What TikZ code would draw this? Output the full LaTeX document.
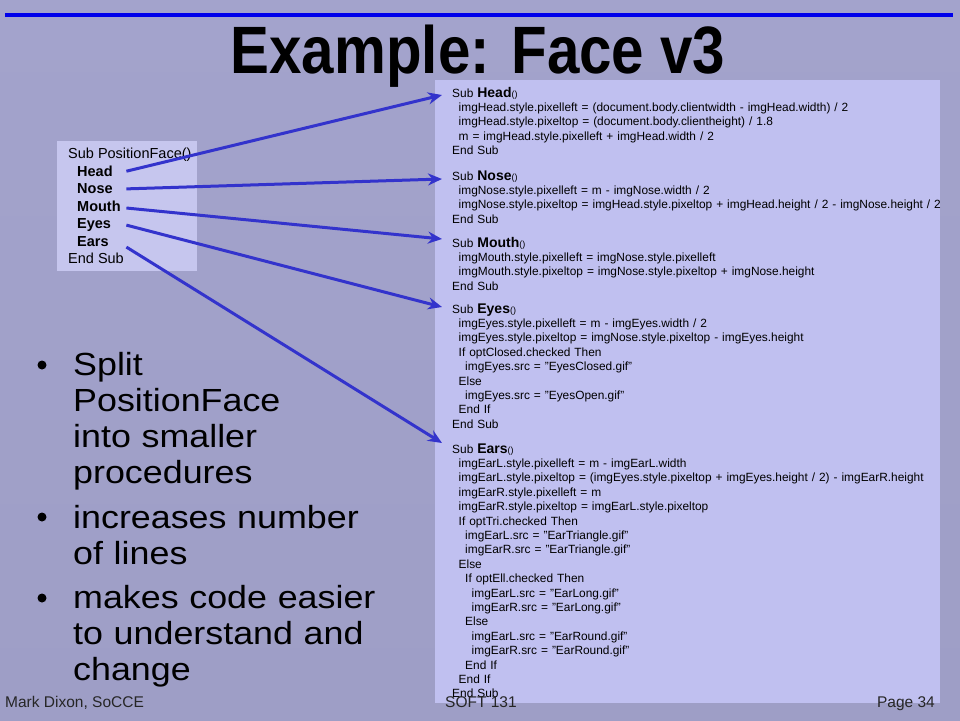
\documentclass[tikz,border=0pt]{standalone}
\usepackage{fontspec}
\setmainfont{Liberation Sans}
\newfontfamily\titlefont[FakeStretch=0.87]{Liberation Sans}
\newfontfamily\bulfont[FakeStretch=1.12]{Liberation Sans}
\usepackage{tikz}
\usetikzlibrary{arrows.meta,positioning,calc}
\usepackage{xcolor}
\definecolor{bgtop}{RGB}{163,163,204}
\definecolor{bgmid}{RGB}{200,200,245}
\definecolor{bgbot}{RGB}{158,158,198}
\definecolor{codebg}{RGB}{192,192,240}
\definecolor{callbg}{RGB}{198,198,238}
\definecolor{linkblue}{RGB}{51,51,204}
\definecolor{rule}{RGB}{0,0,235}
\newlength{\indstep}
\setlength{\indstep}{6.5pt}
\newcommand{\ind}[1]{\hspace*{#1\indstep}}
\newcommand{\subhd}[1]{Sub {\fontsize{14}{14}\selectfont\bfseries #1}{\fontsize{9}{9}\selectfont()}}

\begin{document}
\begin{tikzpicture}[x=1pt,y=-1pt,
    codeblk/.style={inner sep=0pt, text width=520pt, align=left, anchor=base west,
        font=\fontsize{11.9}{14.4}\selectfont},
    call/.style={inner sep=0pt, text width=49pt, align=left, anchor=base west,
        font=\fontsize{14.5}{17}\selectfont\bfseries},
    bultext/.style={inner sep=0pt, text width=360pt, align=left, anchor=base west,
        font=\bulfont\fontsize{32}{36}\selectfont},
    dot/.style={circle, fill=black, inner sep=0pt, minimum size=9pt},
    foot/.style={inner sep=0pt, font=\fontsize{15.5}{16}\selectfont, text=black!85},
    link/.style={line width=3pt, linkblue, -{Stealth[length=14pt,width=12pt]}}]
    \useasboundingbox (0,0) rectangle (960,720);

    % Background and title
    \shade[top color=bgtop, middle color=bgmid, bottom color=bgbot] (0,0) rectangle (960,720);
    \draw[line width=4pt, rule] (5,15) -- (953,15);
    \node[inner sep=0pt, anchor=base, font=\titlefont\bfseries\fontsize{67}{67}\selectfont]
        (title) at (478,73) {Example: Face v3};

    % Calling procedure
    \fill[callbg] (57,141) rectangle (197,271);
    \node[inner sep=0pt, anchor=base west, font=\fontsize{14.5}{17}\selectfont]
        (pfSub) at (68,158) {Sub PositionFace()};
    \foreach \n [count=\i] in {Head,Nose,Mouth,Eyes,Ears}
        \node[call] (c\n) at (77,{159+17.4*\i}) {\n};
    \node[inner sep=0pt, anchor=base west, font=\fontsize{14.5}{17}\selectfont]
        (pfEnd) at (68,263) {End Sub};

    % Split procedures
    \fill[codebg] (435,80) rectangle (940,703);
    \node[codeblk] (head) at (452,97) {\subhd{Head}\\
        \ind1imgHead.style.pixelleft = (document.body.clientwidth - imgHead.width) / 2\\
        \ind1imgHead.style.pixeltop = (document.body.clientheight) / 1.8\\
        \ind1m = imgHead.style.pixelleft + imgHead.width / 2\\
        End Sub};
    \node[codeblk] (nose) at (452,180) {\subhd{Nose}\\
        \ind1imgNose.style.pixelleft = m - imgNose.width / 2\\
        \ind1imgNose.style.pixeltop = imgHead.style.pixeltop + imgHead.height / 2 - imgNose.height / 2\\
        End Sub};
    \node[codeblk] (mouth) at (452,247) {\subhd{Mouth}\\
        \ind1imgMouth.style.pixelleft = imgNose.style.pixelleft\\
        \ind1imgMouth.style.pixeltop = imgNose.style.pixeltop + imgNose.height\\
        End Sub};
    \node[codeblk] (eyes) at (452,313) {\subhd{Eyes}\\
        \ind1imgEyes.style.pixelleft = m - imgEyes.width / 2\\
        \ind1imgEyes.style.pixeltop = imgNose.style.pixeltop - imgEyes.height\\
        \ind1If optClosed.checked Then\\
        \ind2imgEyes.src = "EyesClosed.gif"\\
        \ind1Else\\
        \ind2imgEyes.src = "EyesOpen.gif"\\
        \ind1End If\\
        End Sub};
    \node[codeblk] (ears) at (452,453) {\subhd{Ears}\\
        \ind1imgEarL.style.pixelleft = m - imgEarL.width\\
        \ind1imgEarL.style.pixeltop = (imgEyes.style.pixeltop + imgEyes.height / 2) - imgEarR.height\\
        \ind1imgEarR.style.pixelleft = m\\
        \ind1imgEarR.style.pixeltop = imgEarL.style.pixeltop\\
        \ind1If optTri.checked Then\\
        \ind2imgEarL.src = "EarTriangle.gif"\\
        \ind2imgEarR.src = "EarTriangle.gif"\\
        \ind1Else\\
        \ind2If optEll.checked Then\\
        \ind3imgEarL.src = "EarLong.gif"\\
        \ind3imgEarR.src = "EarLong.gif"\\
        \ind2Else\\
        \ind3imgEarL.src = "EarRound.gif"\\
        \ind3imgEarR.src = "EarRound.gif"\\
        \ind2End If\\
        \ind1End If\\
        End Sub};

    % Calls to procedures
    \foreach \a/\b/\sy/\ty in {Head/head/0/2, Nose/nose/0/1, Mouth/mouth/-2/8,
                               Eyes/eyes/0/6, Ears/ears/-6/10}
        \draw[link] ([yshift=\sy pt]c\a.east) -- ([xshift=-10pt,yshift=\ty pt]\b.base west);

    % Bullet points
    \node[bultext] (b1) at (73,375) {Split\\PositionFace\\into smaller\\procedures};
    \node[bultext] (b2) at (73,528) {increases number\\of lines};
    \node[bultext] (b3) at (73,608) {makes code easier\\to understand and\\change};
    \foreach \b/\y in {b1/365, b2/517, b3/598}
        \node[dot] (d\b) at (42,\y) {};

    % Footer
    \node[foot, anchor=base west] (author) at (5,707) {Mark Dixon, SoCCE};
    \node[foot, anchor=base west] (module) at (445,707) {SOFT 131};
    \node[foot, anchor=base east] (page) at (935,707) {Page 34};
\end{tikzpicture}
\end{document}
